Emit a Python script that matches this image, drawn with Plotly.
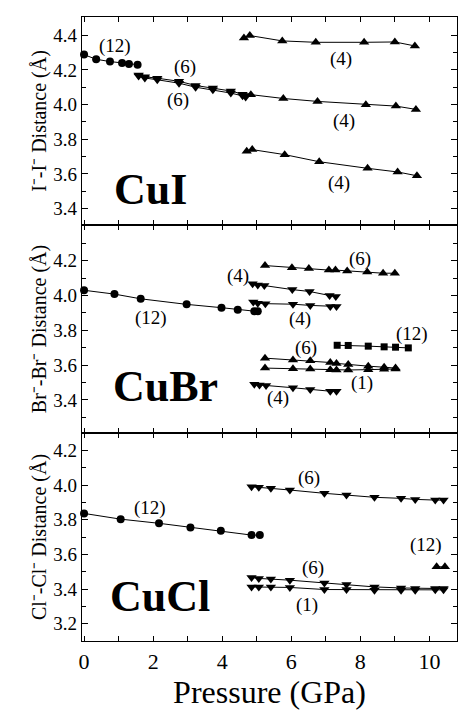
import plotly.graph_objects as go
from plotly.subplots import make_subplots

# ---------------- CuI (top panel) ----------------
cui_12_x = [0.0, 0.35, 0.75, 1.1, 1.3, 1.55]
cui_12_y = [4.288, 4.261, 4.248, 4.240, 4.234, 4.230]

cui_6a_x = [1.58, 1.76, 2.12, 2.75, 3.23, 3.73, 4.25, 4.59, 4.68]
cui_6a_y = [4.170, 4.160, 4.152, 4.134, 4.110, 4.096, 4.078, 4.060, 4.052]
cui_6b_x = [1.58, 1.76, 2.12, 2.75, 3.23, 3.73, 4.25, 4.59, 4.68]
cui_6b_y = [4.165, 4.153, 4.143, 4.123, 4.100, 4.085, 4.066, 4.050, 4.043]

cui_4a_x = [4.63, 4.80, 5.74, 6.71, 8.11, 9.00, 9.58]
cui_4a_y = [4.384, 4.398, 4.367, 4.359, 4.359, 4.361, 4.338]
cui_4b_x = [4.83, 5.77, 6.76, 8.16, 9.03, 9.61]
cui_4b_y = [4.057, 4.035, 4.018, 3.999, 3.991, 3.972]
cui_4c_x = [4.71, 4.87, 5.81, 6.81, 8.21, 9.08, 9.64]
cui_4c_y = [3.730, 3.740, 3.711, 3.670, 3.632, 3.611, 3.589]

# ---------------- CuBr (middle panel) ----------------
cubr_12_x = [0.0, 0.88, 1.64, 2.97, 3.98, 4.45, 4.93, 5.03]
cubr_12_y = [4.030, 4.008, 3.981, 3.949, 3.930, 3.918, 3.910, 3.910]

cubr_6top_x = [5.24, 6.02, 6.51, 7.09, 7.28, 7.62, 8.20, 8.66, 9.00]
cubr_6top_y = [4.172, 4.160, 4.155, 4.146, 4.146, 4.141, 4.135, 4.128, 4.128]

cubr_4a_x = [4.88, 5.03, 5.22, 6.03, 6.53, 7.11, 7.29]
cubr_4a_y = [4.067, 4.061, 4.057, 4.034, 4.023, 4.000, 3.994]
cubr_4b_x = [4.90, 5.03, 5.25, 6.05, 6.55, 7.13, 7.31]
cubr_4b_y = [3.962, 3.956, 3.953, 3.950, 3.943, 3.937, 3.937]

cubr_sq_x = [7.33, 7.65, 8.23, 8.69, 9.02, 9.39]
cubr_sq_y = [3.714, 3.713, 3.709, 3.705, 3.703, 3.699]

cubr_6low_x = [5.24, 6.05, 6.55, 7.13, 7.31, 7.65, 8.23, 8.69, 9.02]
cubr_6low_y = [3.640, 3.630, 3.625, 3.615, 3.610, 3.603, 3.594, 3.588, 3.583]
cubr_1_x = [5.24, 6.05, 6.55, 7.13, 7.31, 7.65, 8.23, 8.69, 9.02]
cubr_1_y = [3.583, 3.579, 3.577, 3.573, 3.572, 3.572, 3.574, 3.576, 3.578]

cubr_4c_x = [4.93, 5.08, 5.27, 6.05, 6.55, 7.13, 7.31]
cubr_4c_y = [3.490, 3.486, 3.483, 3.470, 3.460, 3.450, 3.450]

# ---------------- CuCl (bottom panel) ----------------
cucl_12_x = [0.0, 1.06, 2.17, 3.08, 3.96, 4.85, 5.09]
cucl_12_y = [3.836, 3.803, 3.779, 3.755, 3.736, 3.711, 3.711]

cucl_6a_x = [4.85, 5.06, 5.41, 5.96, 6.96, 7.60, 8.41, 9.18, 9.59, 10.17, 10.41]
cucl_6a_y = [3.990, 3.987, 3.981, 3.971, 3.952, 3.942, 3.929, 3.923, 3.917, 3.913, 3.913]

cucl_6b_x = [4.85, 5.06, 5.41, 5.96, 6.96, 7.60, 8.41, 9.18, 9.59, 10.17, 10.41]
cucl_6b_y = [3.466, 3.461, 3.457, 3.451, 3.435, 3.426, 3.412, 3.406, 3.403, 3.403, 3.403]

cucl_1_x = [4.85, 5.06, 5.41, 5.96, 6.96, 7.60, 8.41, 9.18, 9.59, 10.17, 10.41]
cucl_1_y = [3.412, 3.412, 3.412, 3.409, 3.397, 3.397, 3.393, 3.393, 3.393, 3.395, 3.395]

cucl_12t_x = [10.21, 10.45]
cucl_12t_y = [3.528, 3.528]

# tick labels
y_ticks_top = [3.4, 3.6, 3.8, 4.0, 4.2, 4.4]
y_ticks_mid = [3.4, 3.6, 3.8, 4.0, 4.2]
y_ticks_bot = [3.2, 3.4, 3.6, 3.8, 4.0, 4.2]
x_ticks = [0, 2, 4, 6, 8, 10]

SERIF = "Liberation Serif, Times New Roman, serif"

fig = make_subplots(rows=3, cols=1, shared_xaxes=True, vertical_spacing=0)


def add(row, x, y, symbol, size=8):
    fig.add_trace(go.Scatter(
        x=x, y=y, mode="lines+markers",
        line=dict(color="black", width=1),
        marker=dict(symbol=symbol, size=size, color="black"),
        cliponaxis=False, showlegend=False), row=row, col=1)


add(1, cui_12_x, cui_12_y, "circle")
add(1, cui_6a_x, cui_6a_y, "triangle-down", 9)
add(1, cui_6b_x, cui_6b_y, "triangle-down", 9)
add(1, cui_4a_x, cui_4a_y, "triangle-up", 9)
add(1, cui_4b_x, cui_4b_y, "triangle-up", 9)
add(1, cui_4c_x, cui_4c_y, "triangle-up", 9)

add(2, cubr_12_x, cubr_12_y, "circle")
add(2, cubr_6top_x, cubr_6top_y, "triangle-up", 9)
add(2, cubr_4a_x, cubr_4a_y, "triangle-down", 9)
add(2, cubr_4b_x, cubr_4b_y, "triangle-down", 9)
add(2, cubr_sq_x, cubr_sq_y, "square", 7)
add(2, cubr_6low_x, cubr_6low_y, "triangle-up", 9)
add(2, cubr_1_x, cubr_1_y, "triangle-up", 9)
add(2, cubr_4c_x, cubr_4c_y, "triangle-down", 9)

add(3, cucl_12_x, cucl_12_y, "circle")
add(3, cucl_6a_x, cucl_6a_y, "triangle-down", 9)
add(3, cucl_6b_x, cucl_6b_y, "triangle-down", 9)
add(3, cucl_1_x, cucl_1_y, "triangle-down", 9)
add(3, cucl_12t_x, cucl_12t_y, "triangle-up", 9)

# labels (coordination numbers)
labels = [
    (1, 0.91, 4.34, "(12)"), (1, 2.92, 4.215, "(6)"), (1, 2.73, 4.025, "(6)"),
    (1, 7.43, 4.265, "(4)"), (1, 7.53, 3.905, "(4)"), (1, 7.39, 3.55, "(4)"),
    (2, 1.95, 3.872, "(12)"), (2, 7.98, 4.21, "(6)"), (2, 4.45, 4.114, "(4)"),
    (2, 6.24, 3.867, "(4)"), (2, 9.49, 3.78, "(12)"), (2, 6.43, 3.70, "(6)"),
    (2, 8.06, 3.495, "(1)"), (2, 5.61, 3.41, "(4)"),
    (3, 1.9, 3.87, "(12)"), (3, 6.51, 4.04, "(6)"), (3, 6.64, 3.524, "(6)"),
    (3, 6.47, 3.306, "(1)"), (3, 9.89, 3.653, "(12)"),
]
axis_suffix = {1: "", 2: "2", 3: "3"}
for row, x, y, t in labels:
    s = axis_suffix[row]
    fig.add_annotation(x=x, y=y, xref="x" + s, yref="y" + s, text=t, showarrow=False,
                       font=dict(family=SERIF, size=19, color="black"))

big = [(1, 1.92, 3.51, "CuI"), (2, 2.36, 3.476, "CuBr"), (3, 2.19, 3.354, "CuCl")]
for row, x, y, t in big:
    s = axis_suffix[row]
    fig.add_annotation(x=x, y=y, xref="x" + s, yref="y" + s, text="<b>" + t + "</b>",
                       showarrow=False, font=dict(family=SERIF, size=44, color="black"))

common_x = dict(range=[-0.06, 10.8], showline=True, linecolor="black", linewidth=1.3,
                mirror="allticks", ticks="inside", ticklen=5, tickwidth=1, tickcolor="black",
                tickmode="linear", tick0=0, dtick=1, showgrid=False, zeroline=False)
for r in (1, 2, 3):
    fig.update_xaxes(**common_x, row=r, col=1)
fig.update_xaxes(tickmode="array", tickvals=x_ticks, ticktext=[str(v) for v in x_ticks],
                 minor=dict(tickmode="linear", tick0=0, dtick=1, ticks="inside", ticklen=5,
                            tickcolor="black"),
                 tickfont=dict(family=SERIF, size=22, color="black"),
                 title=dict(text="Pressure (GPa)", font=dict(family=SERIF, size=32, color="black"),
                            standoff=4),
                 row=3, col=1)

common_y = dict(showline=True, linecolor="black", linewidth=1.3, mirror="allticks",
                ticks="inside", ticklen=6, tickwidth=1, tickcolor="black", showgrid=False,
                zeroline=False, tickmode="array",
                minor=dict(tickmode="linear", tick0=0, dtick=0.1, ticks="inside", ticklen=4,
                           tickcolor="black"),
                tickfont=dict(family=SERIF, size=19, color="black"))
yt_font = dict(family=SERIF, size=20, color="black")
fig.update_yaxes(**common_y, range=[3.305, 4.505], tickvals=y_ticks_top,
                 ticktext=[f"{v:.1f}" for v in y_ticks_top],
                 title=dict(text="I\u207b-I\u207b Distance (Å)", font=yt_font, standoff=1),
                 row=1, col=1)
fig.update_yaxes(**common_y, range=[3.21, 4.405], tickvals=y_ticks_mid,
                 ticktext=[f"{v:.1f}" for v in y_ticks_mid],
                 title=dict(text="Br\u207b-Br\u207b Distance (Å)", font=yt_font, standoff=1),
                 row=2, col=1)
fig.update_yaxes(**common_y, range=[3.10, 4.30], tickvals=y_ticks_bot,
                 ticktext=[f"{v:.1f}" for v in y_ticks_bot],
                 title=dict(text="Cl\u207b-Cl\u207b Distance (Å)", font=yt_font, standoff=1),
                 row=3, col=1)

fig.update_layout(width=461, height=711, margin=dict(l=82, r=4, t=17, b=70),
                  plot_bgcolor="white", paper_bgcolor="white",
                  font=dict(family=SERIF, color="black"), showlegend=False)

fig.write_html("out.html")
